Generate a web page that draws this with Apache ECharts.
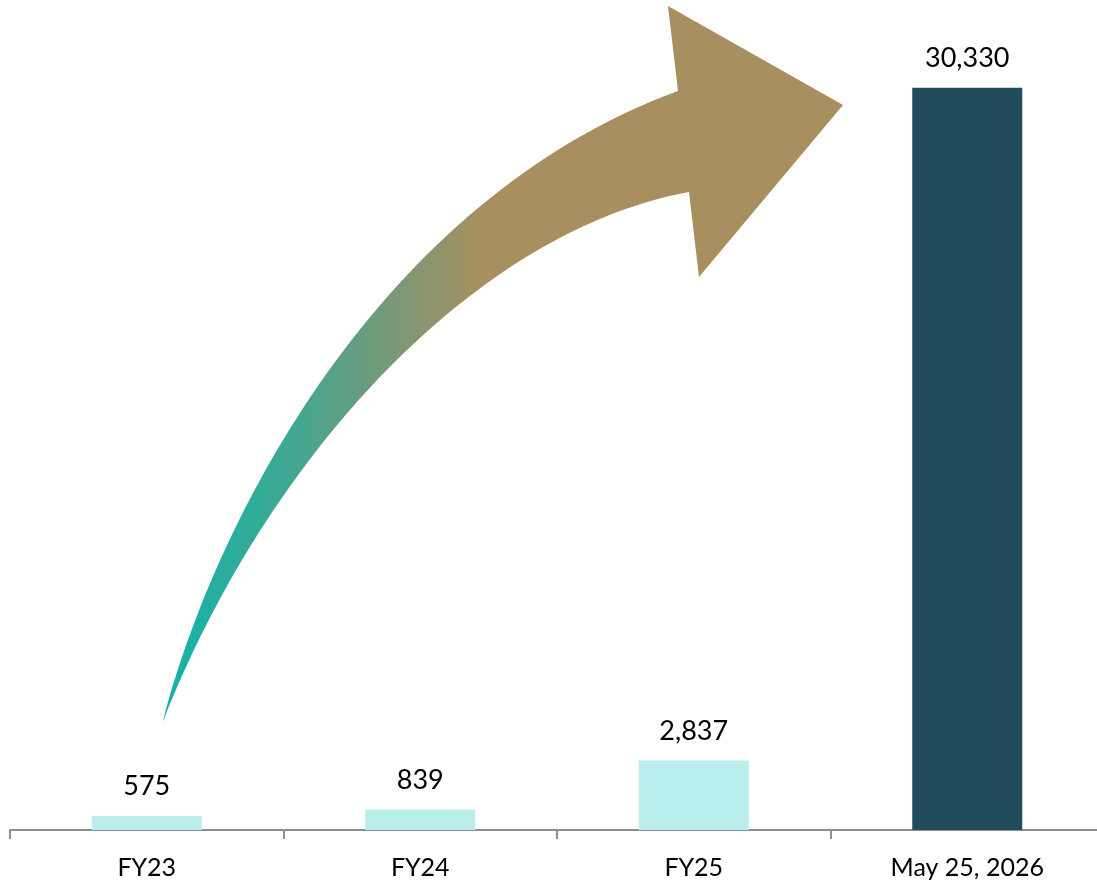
<!DOCTYPE html>
<html>
<head>
<meta charset="utf-8">
<script src="https://cdn.jsdelivr.net/npm/echarts@6/dist/echarts.min.js"></script>
<style>html,body{margin:0;padding:0;background:#fff;}#c{width:1097px;height:883px;}</style>
</head>
<body>
<div id="c"></div>
<script>
const categories = ['FY23', 'FY24', 'FY25', 'May 25, 2026'];
const values = [575, 839, 2837, 30330];
const barColors = ['#b9eeed', '#b9eeed', '#b9eeed', '#204c5b'];

const arrowPath = 'M163 722 C215 520 380 200 678 91 L668 6 L843 105 L699 277 L689 192 C480 230 270 450 163 722 Z';

const chart = echarts.init(document.getElementById('c'));
chart.setOption({
  animation: false,
  backgroundColor: '#ffffff',
  grid: { left: 10, width: 1094, top: 47, height: 783, containLabel: false, outerBoundsMode: 'none' },
  xAxis: {
    type: 'category',
    data: categories,
    boundaryGap: true,
    axisLine: { lineStyle: { color: '#8f8f8f', width: 2 } },
    axisTick: { show: true, alignWithLabel: false, length: 9, lineStyle: { color: '#8f8f8f', width: 2 } },
    axisLabel: { color: '#000', fontFamily: 'Lato', fontSize: 25, margin: 25 }
  },
  yAxis: {
    type: 'value', min: 0, max: 32000, show: false,
    splitLine: { show: false }
  },
  series: [{
    type: 'bar',
    barWidth: 110,
    data: values.map((v, i) => ({ value: v, itemStyle: { color: barColors[i] } })),
    label: {
      show: true, position: 'top', distance: 16,
      color: '#000', fontFamily: 'Lato', fontSize: 27,
      formatter: p => p.value.toLocaleString('en-US')
    }
  }, {
    type: 'custom',
    silent: true,
    z: 10,
    data: [[0, 0]],
    renderItem: function () {
      return {
        type: 'path',
        shape: { pathData: arrowPath },
        style: {
          fill: {
            type: 'linear', x: 0, y: 0, x2: 1, y2: 0, global: false,
            colorStops: [
              { offset: 0, color: '#14b2aa' },
              { offset: 0.18, color: '#3ea894' },
              { offset: 0.3, color: '#6a9c7e' },
              { offset: 0.47, color: '#a88f60' },
              { offset: 1, color: '#a88f60' }
            ]
          }
        }
      };
    }
  }]
});
</script>
</body>
</html>
